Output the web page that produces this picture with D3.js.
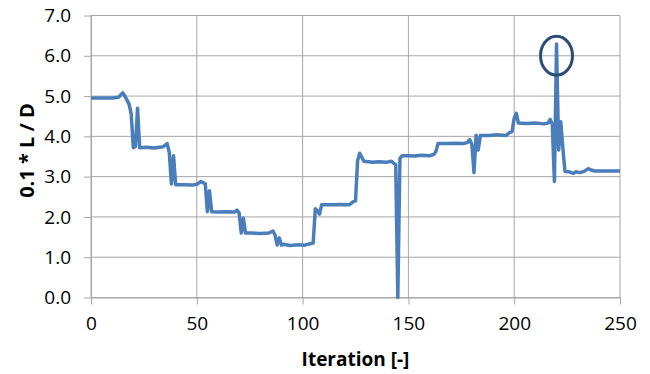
<!DOCTYPE html>
<html>
<head>
<meta charset="utf-8">
<script src="https://cdn.jsdelivr.net/npm/d3@7"></script>
<style>
  body { margin: 0; background: #fff; }
  text { font-family: "Open Sans", sans-serif; fill: #000; }
</style>
</head>
<body>
<div class="chart"></div>
<script>
// iteration numbers and 0.1*L/D values
const iterations = [0, 10, 13, 15, 16, 18, 19, 20, 21, 22, 23, 26, 30, 34, 36, 37, 38, 39, 40, 44, 48, 50, 52, 54, 55, 56, 57, 60, 64, 68, 69, 70, 71, 72, 73, 76, 80, 84, 86, 87, 88, 89, 90, 91, 94, 98, 101, 104, 105, 106, 107, 108, 109, 114, 118, 122, 124, 125, 126, 127, 129, 133, 136, 140, 142, 143, 144, 145, 146, 147, 150, 153, 156, 160, 162, 163, 164, 168, 172, 176, 178, 179, 180, 181, 182, 183, 184, 188, 192, 196, 198, 199, 200, 201, 202, 206, 210, 214, 216, 217, 218, 219, 220, 221, 222, 223, 224, 226, 228, 229, 231, 233, 235, 236, 238, 242, 246, 250];
const ldValues = [4.95, 4.95, 4.97, 5.08, 5.0, 4.8, 4.55, 3.72, 3.75, 4.7, 3.72, 3.73, 3.71, 3.74, 3.82, 3.6, 2.82, 3.52, 2.8, 2.8, 2.79, 2.81, 2.88, 2.82, 2.13, 2.65, 2.13, 2.12, 2.13, 2.12, 2.17, 2.1, 1.6, 1.97, 1.6, 1.6, 1.59, 1.6, 1.65, 1.55, 1.3, 1.48, 1.3, 1.32, 1.29, 1.31, 1.3, 1.34, 1.35, 2.2, 2.15, 2.07, 2.3, 2.3, 2.31, 2.3, 2.38, 2.4, 3.4, 3.58, 3.38, 3.36, 3.37, 3.36, 3.38, 3.33, 3.3, 0.0, 3.45, 3.52, 3.52, 3.51, 3.53, 3.52, 3.55, 3.62, 3.82, 3.82, 3.83, 3.82, 3.85, 3.92, 3.8, 3.1, 4.03, 3.66, 4.02, 4.02, 4.04, 4.02, 4.1, 4.12, 4.45, 4.57, 4.33, 4.32, 4.33, 4.31, 4.33, 4.42, 4.3, 2.88, 6.29, 3.66, 4.36, 3.7, 3.13, 3.12, 3.08, 3.12, 3.1, 3.13, 3.2, 3.17, 3.14, 3.14, 3.14, 3.14];

const xTicks = [0, 50, 100, 150, 200, 250];
const yTicks = [0, 1, 2, 3, 4, 5, 6, 7];
const xTitle = "Iteration [-]";
const yTitle = "0.1 * L / D";
const marked = {x: 220, y: 6.0}; // circled peak

const width = 650, height = 374;
const plotLeft = 91, plotRight = 620, plotTop = 15.5, plotBottom = 297.5;

const svg = d3.select(".chart").append("svg")
    .attr("width", width)
    .attr("height", height);

const x = d3.scaleLinear().domain([0, 250]).range([plotLeft, plotRight]);
const y = d3.scaleLinear().domain([0, 7]).range([plotBottom, plotTop]);

const gridColor = "#a6a6a6";

// gridlines
svg.append("g").selectAll("line").data(yTicks).enter().append("line")
    .attr("x1", plotLeft).attr("x2", plotRight)
    .attr("y1", d => y(d)).attr("y2", d => y(d))
    .attr("stroke", gridColor).attr("stroke-width", 1);
svg.append("g").selectAll("line").data(xTicks).enter().append("line")
    .attr("x1", d => x(d)).attr("x2", d => x(d))
    .attr("y1", plotTop).attr("y2", plotBottom)
    .attr("stroke", gridColor).attr("stroke-width", 1);

// axes
const xAxis = svg.append("g")
    .attr("transform", `translate(0,${plotBottom})`)
    .call(d3.axisBottom(x).tickValues(xTicks).tickFormat(d3.format("d")).tickSizeInner(7).tickSizeOuter(0).tickPadding(12));
const yAxis = svg.append("g")
    .attr("transform", `translate(${plotLeft},0)`)
    .call(d3.axisLeft(y).tickValues(yTicks).tickFormat(d3.format(".1f")).tickSizeInner(7).tickSizeOuter(0).tickPadding(13));

[xAxis, yAxis].forEach(g => {
    g.select(".domain").attr("stroke", gridColor);
    g.selectAll(".tick line").attr("stroke", gridColor);
    g.selectAll(".tick text")
        .style("font-family", "'Open Sans', sans-serif")
        .style("font-size", "19px")
        .attr("fill", "#000");
});

// data line
const line = d3.line()
    .x((d, i) => x(iterations[i]))
    .y(d => y(d));

svg.append("path")
    .datum(ldValues)
    .attr("d", line)
    .attr("fill", "none")
    .attr("stroke", "#4a7ebb")
    .attr("stroke-width", 3.5)
    .attr("stroke-linejoin", "round");

// circle around the peak
svg.append("ellipse")
    .attr("cx", x(marked.x))
    .attr("cy", y(marked.y))
    .attr("rx", 16)
    .attr("ry", 19.5)
    .attr("fill", "none")
    .attr("stroke", "#2c4d75")
    .attr("stroke-width", 3);

// axis titles
svg.append("text")
    .attr("x", (plotLeft + plotRight) / 2)
    .attr("y", 366)
    .attr("text-anchor", "middle")
    .style("font-weight", "bold")
    .style("font-size", "19px")
    .text(xTitle);

svg.append("text")
    .attr("transform", `translate(34,${(plotTop + plotBottom) / 2 - 6}) rotate(-90)`)
    .attr("text-anchor", "middle")
    .style("font-weight", "bold")
    .style("font-size", "20px")
    .text(yTitle);
</script>
</body>
</html>
